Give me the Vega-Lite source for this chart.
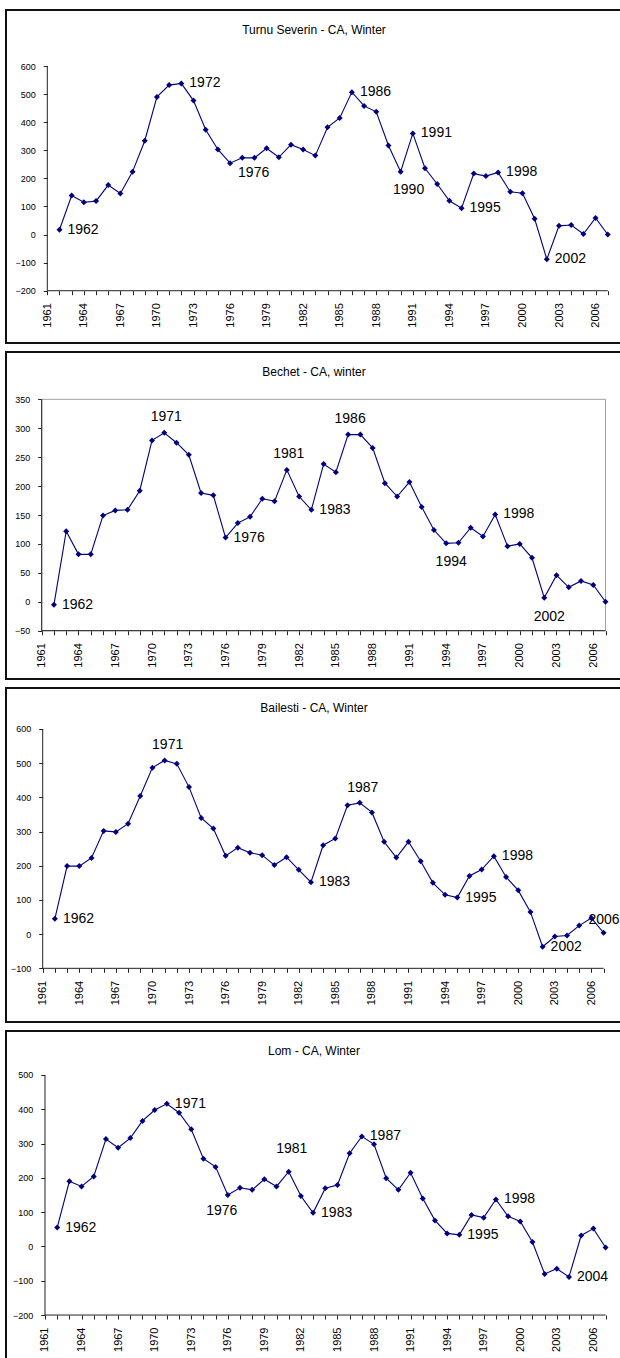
{
"$schema": "https://vega.github.io/schema/vega-lite/v6.json",
"padding": {"left": 5, "top": 9, "right": 0, "bottom": 0},
"background": "white",
"datasets": {
"ts": [{"year":1962,"value":17},{"year":1963,"value":139},{"year":1964,"value":115},{"year":1965,"value":119},{"year":1966,"value":176},{"year":1967,"value":146},{"year":1968,"value":224},{"year":1969,"value":334},{"year":1970,"value":490},{"year":1971,"value":532},{"year":1972,"value":538},{"year":1973,"value":477},{"year":1974,"value":373},{"year":1975,"value":303},{"year":1976,"value":254},{"year":1977,"value":273},{"year":1978,"value":273},{"year":1979,"value":307},{"year":1980,"value":275},{"year":1981,"value":320},{"year":1982,"value":303},{"year":1983,"value":281},{"year":1984,"value":382},{"year":1985,"value":415},{"year":1986,"value":507},{"year":1987,"value":458},{"year":1988,"value":437},{"year":1989,"value":317},{"year":1990,"value":224},{"year":1991,"value":360},{"year":1992,"value":236},{"year":1993,"value":180},{"year":1994,"value":120},{"year":1995,"value":94},{"year":1996,"value":217},{"year":1997,"value":208},{"year":1998,"value":221},{"year":1999,"value":152},{"year":2000,"value":147},{"year":2001,"value":56},{"year":2002,"value":-88},{"year":2003,"value":31},{"year":2004,"value":34},{"year":2005,"value":2},{"year":2006,"value":59},{"year":2007,"value":0}],
"be": [{"year":1962,"value":-5},{"year":1963,"value":122},{"year":1964,"value":82},{"year":1965,"value":82},{"year":1966,"value":149},{"year":1967,"value":158},{"year":1968,"value":159},{"year":1969,"value":192},{"year":1970,"value":279},{"year":1971,"value":292},{"year":1972,"value":275},{"year":1973,"value":254},{"year":1974,"value":188},{"year":1975,"value":184},{"year":1976,"value":111},{"year":1977,"value":136},{"year":1978,"value":147},{"year":1979,"value":178},{"year":1980,"value":174},{"year":1981,"value":228},{"year":1982,"value":182},{"year":1983,"value":159},{"year":1984,"value":238},{"year":1985,"value":224},{"year":1986,"value":289},{"year":1987,"value":289},{"year":1988,"value":266},{"year":1989,"value":205},{"year":1990,"value":182},{"year":1991,"value":207},{"year":1992,"value":164},{"year":1993,"value":124},{"year":1994,"value":101},{"year":1995,"value":102},{"year":1996,"value":128},{"year":1997,"value":113},{"year":1998,"value":151},{"year":1999,"value":96},{"year":2000,"value":100},{"year":2001,"value":76},{"year":2002,"value":7},{"year":2003,"value":46},{"year":2004,"value":25},{"year":2005,"value":36},{"year":2006,"value":29},{"year":2007,"value":0}],
"ba": [{"year":1962,"value":45},{"year":1963,"value":199},{"year":1964,"value":199},{"year":1965,"value":223},{"year":1966,"value":302},{"year":1967,"value":299},{"year":1968,"value":323},{"year":1969,"value":404},{"year":1970,"value":487},{"year":1971,"value":508},{"year":1972,"value":498},{"year":1973,"value":430},{"year":1974,"value":340},{"year":1975,"value":309},{"year":1976,"value":229},{"year":1977,"value":253},{"year":1978,"value":238},{"year":1979,"value":231},{"year":1980,"value":202},{"year":1981,"value":225},{"year":1982,"value":188},{"year":1983,"value":152},{"year":1984,"value":260},{"year":1985,"value":280},{"year":1986,"value":377},{"year":1987,"value":384},{"year":1988,"value":356},{"year":1989,"value":270},{"year":1990,"value":224},{"year":1991,"value":270},{"year":1992,"value":213},{"year":1993,"value":150},{"year":1994,"value":115},{"year":1995,"value":107},{"year":1996,"value":170},{"year":1997,"value":189},{"year":1998,"value":228},{"year":1999,"value":167},{"year":2000,"value":128},{"year":2001,"value":65},{"year":2002,"value":-37},{"year":2003,"value":-7},{"year":2004,"value":-4},{"year":2005,"value":25},{"year":2006,"value":47},{"year":2007,"value":4}],
"lo": [{"year":1962,"value":55},{"year":1963,"value":190},{"year":1964,"value":175},{"year":1965,"value":204},{"year":1966,"value":313},{"year":1967,"value":288},{"year":1968,"value":316},{"year":1969,"value":366},{"year":1970,"value":398},{"year":1971,"value":416},{"year":1972,"value":390},{"year":1973,"value":342},{"year":1974,"value":256},{"year":1975,"value":232},{"year":1976,"value":150},{"year":1977,"value":171},{"year":1978,"value":165},{"year":1979,"value":196},{"year":1980,"value":175},{"year":1981,"value":218},{"year":1982,"value":147},{"year":1983,"value":98},{"year":1984,"value":170},{"year":1985,"value":179},{"year":1986,"value":272},{"year":1987,"value":321},{"year":1988,"value":298},{"year":1989,"value":199},{"year":1990,"value":165},{"year":1991,"value":215},{"year":1992,"value":140},{"year":1993,"value":76},{"year":1994,"value":38},{"year":1995,"value":34},{"year":1996,"value":92},{"year":1997,"value":84},{"year":1998,"value":137},{"year":1999,"value":88},{"year":2000,"value":73},{"year":2001,"value":13},{"year":2002,"value":-80},{"year":2003,"value":-65},{"year":2004,"value":-89},{"year":2005,"value":32},{"year":2006,"value":52},{"year":2007,"value":-3}]
},
"spacing": 7,
"vconcat": [
{
"width": 616, "height": 333,
"title": {"text": "Turnu Severin - CA, Winter"},
"encoding": {
"x": {"field": "year", "type": "quantitative", "title": null, "scale": {"domain": [1957.61, 2008.17], "nice": false, "zero": false}, "axis": {"values": [1961,1962,1963,1964,1965,1966,1967,1968,1969,1970,1971,1972,1973,1974,1975,1976,1977,1978,1979,1980,1981,1982,1983,1984,1985,1986,1987,1988,1989,1990,1991,1992,1993,1994,1995,1996,1997,1998,1999,2000,2001,2002,2003,2004,2005,2006,2007], "labelExpr": "(datum.value - 1961) % 3 == 0 ? '' + datum.value : ''", "offset": -52.3}},
"y": {"field": "value", "type": "quantitative", "title": null, "scale": {"domain": [-386.1, 799.4], "nice": false, "zero": false}, "axis": {"values": [-200,-100,0,100,200,300,400,500,600], "offset": -41.3}}
},
"layer": [
{"data": {"name": "ts"}, "transform": [{"filter": "datum.year == 1962"}], "mark": {"type": "rule", "color": "#222", "strokeWidth": 1}, "encoding": {"x": {"datum": 1961}, "y": {"datum": -200}, "y2": {"datum": 600}}},
{"data": {"name": "ts"}, "transform": [{"filter": "datum.year == 1962"}], "mark": {"type": "rule", "color": "#222", "strokeWidth": 1}, "encoding": {"x": {"datum": 1961}, "x2": {"datum": 2007}, "y": {"datum": -200}}},
{"data": {"name": "ts"}, "mark": {"type": "line", "color": "#000080", "strokeWidth": 1.1}},
{"data": {"name": "ts"}, "mark": {"type": "point", "shape": "diamond", "filled": true, "size": 36, "color": "#000080", "opacity": 1}},
{"data": {"name": "ts"}, "transform": [{"filter": "indexof([1962,1972,1986,1991,1995,1998,2002], datum.year) >= 0"}], "mark": {"type": "text", "align": "left", "baseline": "middle", "dx": 8, "dy": 0}, "encoding": {"text": {"field": "year", "type": "nominal"}}},
{"data": {"name": "ts"}, "transform": [{"filter": "datum.year == 1976"}], "mark": {"type": "text", "align": "left", "baseline": "middle", "dx": 8, "dy": 10}, "encoding": {"text": {"field": "year", "type": "nominal"}}},
{"data": {"name": "ts"}, "transform": [{"filter": "datum.year == 1990"}], "mark": {"type": "text", "align": "center", "baseline": "middle", "dx": 8, "dy": 18}, "encoding": {"text": {"field": "year", "type": "nominal"}}}
]
},
{
"width": 616, "height": 327,
"title": {"text": "Bechet - CA, winter"},
"encoding": {
"x": {"field": "year", "type": "quantitative", "title": null, "scale": {"domain": [1958.087, 2008.344], "nice": false, "zero": false}, "axis": {"values": [1961,1962,1963,1964,1965,1966,1967,1968,1969,1970,1971,1972,1973,1974,1975,1976,1977,1978,1979,1980,1981,1982,1983,1984,1985,1986,1987,1988,1989,1990,1991,1992,1993,1994,1995,1996,1997,1998,1999,2000,2001,2002,2003,2004,2005,2006,2007], "labelExpr": "(datum.value - 1961) % 3 == 0 ? '' + datum.value : ''", "offset": -48.3}},
"y": {"field": "value", "type": "quantitative", "title": null, "scale": {"domain": [-133.5, 431.8], "nice": false, "zero": false}, "axis": {"values": [-50,0,50,100,150,200,250,300,350], "offset": -35.7}}
},
"layer": [
{"data": {"name": "be"}, "transform": [{"filter": "datum.year == 1962"}], "mark": {"type": "rect", "filled": false, "color": "#a0a0a0", "strokeWidth": 1}, "encoding": {"x": {"datum": 1961}, "x2": {"datum": 2007}, "y": {"datum": -50}, "y2": {"datum": 350}}},
{"data": {"name": "be"}, "transform": [{"filter": "datum.year == 1962"}], "mark": {"type": "rule", "color": "#222", "strokeWidth": 1}, "encoding": {"x": {"datum": 1961}, "y": {"datum": -50}, "y2": {"datum": 350}}},
{"data": {"name": "be"}, "transform": [{"filter": "datum.year == 1962"}], "mark": {"type": "rule", "color": "#222", "strokeWidth": 1}, "encoding": {"x": {"datum": 1961}, "x2": {"datum": 2007}, "y": {"datum": -50}}},
{"data": {"name": "be"}, "mark": {"type": "line", "color": "#000080", "strokeWidth": 1.1}},
{"data": {"name": "be"}, "mark": {"type": "point", "shape": "diamond", "filled": true, "size": 36, "color": "#000080", "opacity": 1}},
{"data": {"name": "be"}, "transform": [{"filter": "indexof([1962,1976,1983,1998], datum.year) >= 0"}], "mark": {"type": "text", "align": "left", "baseline": "middle", "dx": 8, "dy": 0}, "encoding": {"text": {"field": "year", "type": "nominal"}}},
{"data": {"name": "be"}, "transform": [{"filter": "indexof([1971,1981,1986], datum.year) >= 0"}], "mark": {"type": "text", "align": "center", "baseline": "middle", "dx": 2, "dy": -16}, "encoding": {"text": {"field": "year", "type": "nominal"}}},
{"data": {"name": "be"}, "transform": [{"filter": "indexof([1994,2002], datum.year) >= 0"}], "mark": {"type": "text", "align": "center", "baseline": "middle", "dx": 5, "dy": 19}, "encoding": {"text": {"field": "year", "type": "nominal"}}}
]
},
{
"width": 616, "height": 334,
"title": {"text": "Bailesti - CA, Winter"},
"encoding": {
"x": {"field": "year", "type": "quantitative", "title": null, "scale": {"domain": [1957.99, 2008.51], "nice": false, "zero": false}, "axis": {"values": [1961,1962,1963,1964,1965,1966,1967,1968,1969,1970,1971,1972,1973,1974,1975,1976,1977,1978,1979,1980,1981,1982,1983,1984,1985,1986,1987,1988,1989,1990,1991,1992,1993,1994,1995,1996,1997,1998,1999,2000,2001,2002,2003,2004,2005,2006,2007], "labelExpr": "(datum.value - 1961) % 3 == 0 ? '' + datum.value : ''", "offset": -53.7}},
"y": {"field": "value", "type": "quantitative", "title": null, "scale": {"domain": [-257.0, 719.9], "nice": false, "zero": false}, "axis": {"values": [-100,0,100,200,300,400,500,600], "offset": -36.7}}
},
"layer": [
{"data": {"name": "ba"}, "transform": [{"filter": "datum.year == 1962"}], "mark": {"type": "rule", "color": "#222", "strokeWidth": 1}, "encoding": {"x": {"datum": 1961}, "y": {"datum": -100}, "y2": {"datum": 600}}},
{"data": {"name": "ba"}, "transform": [{"filter": "datum.year == 1962"}], "mark": {"type": "rule", "color": "#222", "strokeWidth": 1}, "encoding": {"x": {"datum": 1961}, "x2": {"datum": 2007}, "y": {"datum": -100}}},
{"data": {"name": "ba"}, "mark": {"type": "line", "color": "#000080", "strokeWidth": 1.1}},
{"data": {"name": "ba"}, "mark": {"type": "point", "shape": "diamond", "filled": true, "size": 36, "color": "#000080", "opacity": 1}},
{"data": {"name": "ba"}, "transform": [{"filter": "indexof([1962,1983,1995,1998,2002], datum.year) >= 0"}], "mark": {"type": "text", "align": "left", "baseline": "middle", "dx": 8, "dy": 0}, "encoding": {"text": {"field": "year", "type": "nominal"}}},
{"data": {"name": "ba"}, "transform": [{"filter": "indexof([1971,1987], datum.year) >= 0"}], "mark": {"type": "text", "align": "center", "baseline": "middle", "dx": 3, "dy": -15}, "encoding": {"text": {"field": "year", "type": "nominal"}}},
{"data": {"name": "ba"}, "transform": [{"filter": "datum.year == 2006"}], "mark": {"type": "text", "align": "left", "baseline": "middle", "dx": -3, "dy": 2}, "encoding": {"text": {"field": "year", "type": "nominal"}}}
]
},
{
"width": 616, "height": 333,
"title": {"text": "Lom - CA, Winter"},
"encoding": {
"x": {"field": "year", "type": "quantitative", "title": null, "scale": {"domain": [1957.8, 2008.35], "nice": false, "zero": false}, "axis": {"values": [1961,1962,1963,1964,1965,1966,1967,1968,1969,1970,1971,1972,1973,1974,1975,1976,1977,1978,1979,1980,1981,1982,1983,1984,1985,1986,1987,1988,1989,1990,1991,1992,1993,1994,1995,1996,1997,1998,1999,2000,2001,2002,2003,2004,2005,2006,2007], "labelExpr": "(datum.value - 1961) % 3 == 0 ? '' + datum.value : ''", "offset": -49}},
"y": {"field": "value", "type": "quantitative", "title": null, "scale": {"domain": [-342.8, 628.3], "nice": false, "zero": false}, "axis": {"values": [-200,-100,0,100,200,300,400,500], "offset": -38.7}}
},
"layer": [
{"data": {"name": "lo"}, "transform": [{"filter": "datum.year == 1962"}], "mark": {"type": "rule", "color": "#222", "strokeWidth": 1}, "encoding": {"x": {"datum": 1961}, "y": {"datum": -200}, "y2": {"datum": 500}}},
{"data": {"name": "lo"}, "transform": [{"filter": "datum.year == 1962"}], "mark": {"type": "rule", "color": "#222", "strokeWidth": 1}, "encoding": {"x": {"datum": 1961}, "x2": {"datum": 2007}, "y": {"datum": -200}}},
{"data": {"name": "lo"}, "mark": {"type": "line", "color": "#000080", "strokeWidth": 1.1}},
{"data": {"name": "lo"}, "mark": {"type": "point", "shape": "diamond", "filled": true, "size": 36, "color": "#000080", "opacity": 1}},
{"data": {"name": "lo"}, "transform": [{"filter": "indexof([1962,1971,1983,1987,1995,1998,2004], datum.year) >= 0"}], "mark": {"type": "text", "align": "left", "baseline": "middle", "dx": 8, "dy": 0}, "encoding": {"text": {"field": "year", "type": "nominal"}}},
{"data": {"name": "lo"}, "transform": [{"filter": "datum.year == 1976"}], "mark": {"type": "text", "align": "center", "baseline": "middle", "dx": -6, "dy": 16}, "encoding": {"text": {"field": "year", "type": "nominal"}}},
{"data": {"name": "lo"}, "transform": [{"filter": "datum.year == 1981"}], "mark": {"type": "text", "align": "center", "baseline": "middle", "dx": 3, "dy": -23}, "encoding": {"text": {"field": "year", "type": "nominal"}}}
]
}
],
"config": {
"view": {"stroke": "#111", "strokeWidth": 2},
"title": {"font": "Liberation Sans", "fontSize": 12, "fontWeight": "normal", "color": "#000", "offset": -27, "frame": "group", "anchor": "middle"},
"axis": {"domain": false, "grid": false, "tickColor": "#222", "tickSize": 4, "labelColor": "#000", "labelFont": "Liberation Sans"},
"axisX": {"labelFontSize": 11, "labelAngle": 270, "labelPadding": 8},
"axisY": {"labelFontSize": 9, "labelPadding": 8},
"text": {"font": "Liberation Sans", "fontSize": 14, "color": "#000"}
}
}
